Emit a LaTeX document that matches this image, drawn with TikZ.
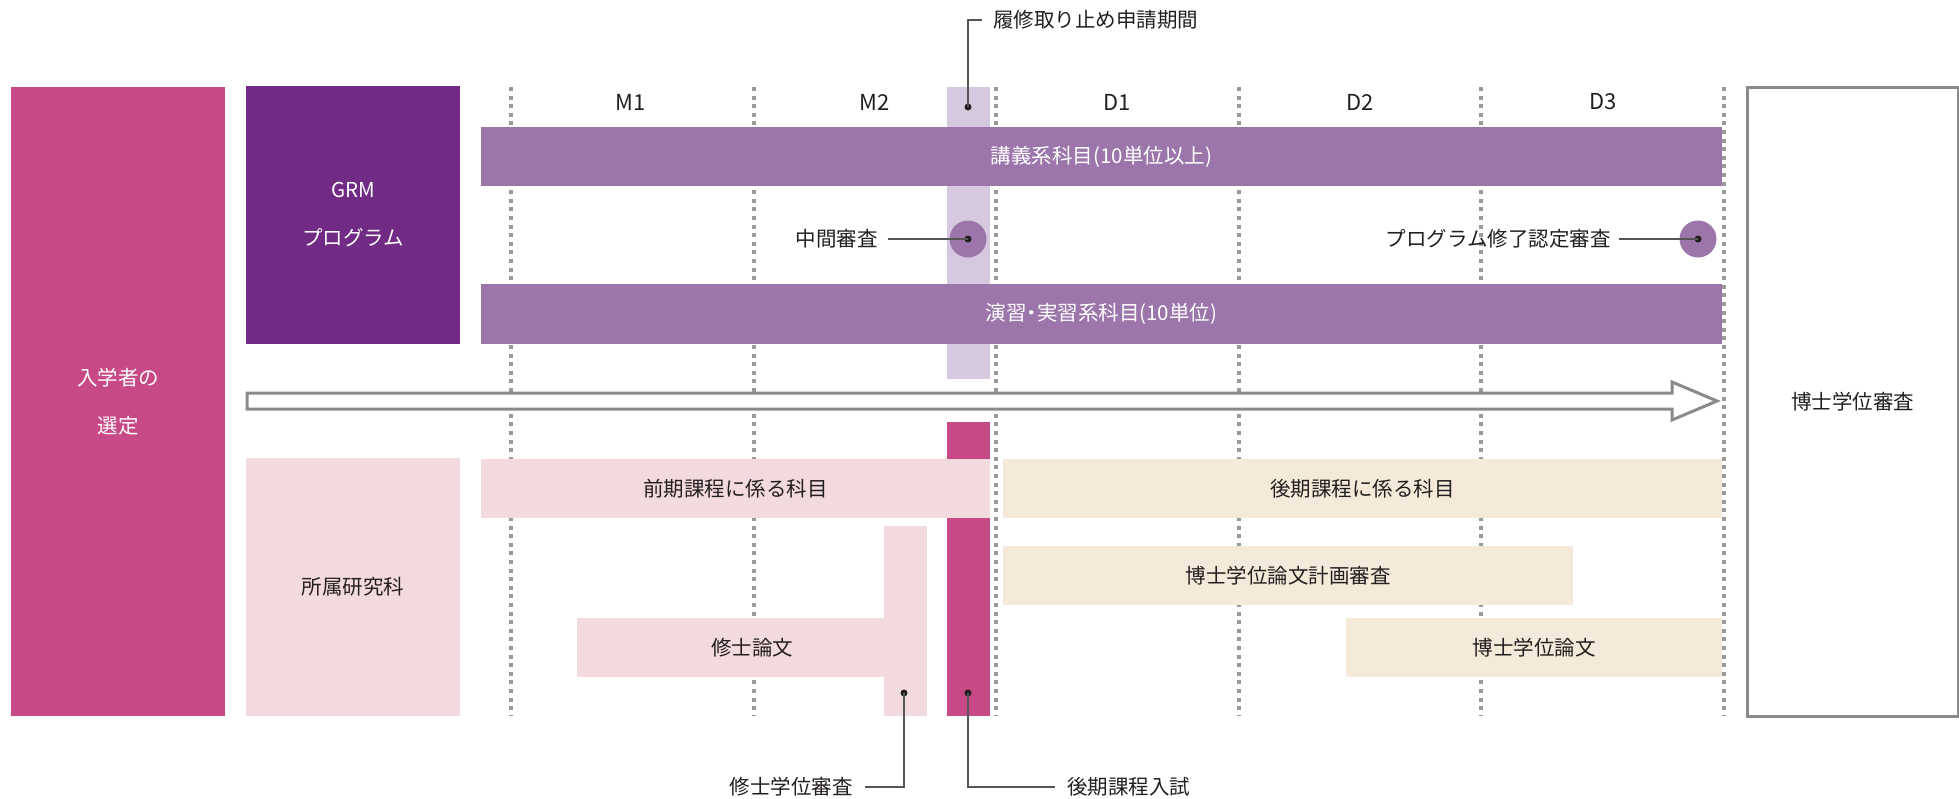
\documentclass[tikz,border=0pt]{standalone}
\usepackage{fontspec}
\setmainfont{Noto Sans CJK JP}
\usetikzlibrary{positioning}
\definecolor{cMag}{HTML}{C74986}
\definecolor{cGrm}{HTML}{722B85}
\definecolor{cBar}{HTML}{9C76AB}
\definecolor{cLav}{HTML}{D6C9DF}
\definecolor{cPink}{HTML}{F3DADF}
\definecolor{cBeige}{HTML}{F5EAD9}
\definecolor{cGrid}{HTML}{9A9A9A}
\definecolor{cTxt}{HTML}{231F20}
\definecolor{cLine}{HTML}{555555}
\definecolor{cOut}{HTML}{8A8A8A}
\newcommand{\narrowdot}{{\addfontfeatures{RawFeature=+palt}・}}
\begin{document}
\begin{tikzpicture}[x=1pt,y=-1pt,
  blk/.style={rectangle, inner sep=0pt, outer sep=0pt, anchor=north west, draw=none, align=center,
    font=\fontsize{20.5}{48}\selectfont},
  darkblk/.style={blk, text=white},
  lightblk/.style={blk, text=cTxt},
  lbl/.style={inner sep=0pt, text=cTxt, font=\fontsize{20.5}{24}\selectfont},
  yr/.style={lbl, font=\fontsize{22}{26}\selectfont},
  grid/.style={cGrid, line width=4pt, dash pattern=on 4pt off 4.6pt},
  conn/.style={cLine, line width=1.6pt},
  pin/.style={circle, fill=cTxt, inner sep=0pt, minimum size=7pt},
  disc/.style={circle, fill=cBar, inner sep=0pt, minimum size=37pt}
]
\useasboundingbox (0,0) rectangle (1959,798);

% dashed year grid
\foreach \gx [count=\i] in {511,754,996,1239,1481,1724}{
  \coordinate (gt\i) at (\gx,87);
  \coordinate (gb\i) at (\gx,716);
  \draw[grid] (gt\i) -- (gb\i);
}

% year labels
\node[yr] (m1) at (631,102) {M1};
\node[yr] (m2) at (875,102) {M2};
\node[yr] (d1) at (1117,102) {D1};
\node[yr] (d2) at (1360,102) {D2};
\node[yr] (d3) at (1603,102) {D3};

% left boxes
\node[darkblk, fill=cMag, minimum width=214pt, minimum height=629pt] (sel) at (11,87) {入学者の\\選定};
\node[darkblk, fill=cGrm, minimum width=214pt, minimum height=258pt] (grm) at (246,86) {GRM\\プログラム};
\node[lightblk, fill=cPink, minimum width=214pt, minimum height=258pt] (dept) at (246,458) {所属研究科};

% withdrawal period column
\node[blk, fill=cLav, minimum width=43pt, minimum height=292pt] (lav) at (947,87) {};

% GRM bars
\node[darkblk, fill=cBar, minimum width=1241pt, minimum height=59pt] (lec) at (481,127) {講義系科目(10単位以上)};
\node[darkblk, fill=cBar, minimum width=1241pt, minimum height=60pt] (prac) at (481,284) {演習\narrowdot 実習系科目(10単位)};

% review discs
\node[disc] (mid) at (968,239) {};
\node[disc] (prog) at (1698,239) {};

% arrow
\draw[cOut, line width=3pt, fill=white, line join=miter]
  (247,393) -- (1672,393) -- (1672,382) -- (1717,401) -- (1672,420) -- (1672,409) -- (247,409) -- cycle;

% doctoral entrance column
\node[blk, fill=cMag, minimum width=43pt, minimum height=294pt] (ent) at (947,422) {};

% master's course
\node[lightblk, fill=cPink, minimum width=509pt, minimum height=59pt] (zenki) at (481,459) {前期課程に係る科目};
\node[blk, fill=cPink, minimum width=43pt, minimum height=190pt] (mstrip) at (884,526) {};
\node[lightblk, fill=cPink, minimum width=350pt, minimum height=59pt] (mthesis) at (577,618) {修士論文};

% doctoral course
\node[lightblk, fill=cBeige, minimum width=719pt, minimum height=59pt] (kouki) at (1003,459) {後期課程に係る科目};
\node[lightblk, fill=cBeige, minimum width=570pt, minimum height=59pt] (plan) at (1003,546) {博士学位論文計画審査};
\node[lightblk, fill=cBeige, minimum width=376pt, minimum height=59pt] (dthesis) at (1346,618) {博士学位論文};

% final box
\node[lightblk, fill=white, draw=cOut, line width=3pt, minimum width=211pt, minimum height=629pt] (final) at (1747,87) {博士学位審査};

% callouts
\node[pin] (p1) at (968,107) {};
\coordinate (c1a) at (968,20);
\coordinate (c1b) at (982,20);
\node[lbl, anchor=west] (t1) at (993,20) {履修取り止め申請期間};
\draw[conn] (p1.center) -- (c1a) -- (c1b);

\node[pin] (p2) at (mid.center) {};
\node[lbl, anchor=east] (t2) at (878,239) {中間審査};
\draw[conn] (p2.center) -- (888,239);

\node[pin] (p3) at (prog.center) {};
\node[lbl, anchor=east] (t3) at (1611,239) {プログラム修了認定審査};
\draw[conn] (p3.center) -- (1619,239);

\node[pin] (p4) at (904,693) {};
\coordinate (c4a) at (904,787);
\coordinate (c4b) at (865,787);
\node[lbl, anchor=east] (t4) at (853,787) {修士学位審査};
\draw[conn] (p4.center) -- (c4a) -- (c4b);

\node[pin] (p5) at (968,693) {};
\coordinate (c5a) at (968,787);
\coordinate (c5b) at (1055,787);
\node[lbl, anchor=west] (t5) at (1067,787) {後期課程入試};
\draw[conn] (p5.center) -- (c5a) -- (c5b);
\end{tikzpicture}
\end{document}
